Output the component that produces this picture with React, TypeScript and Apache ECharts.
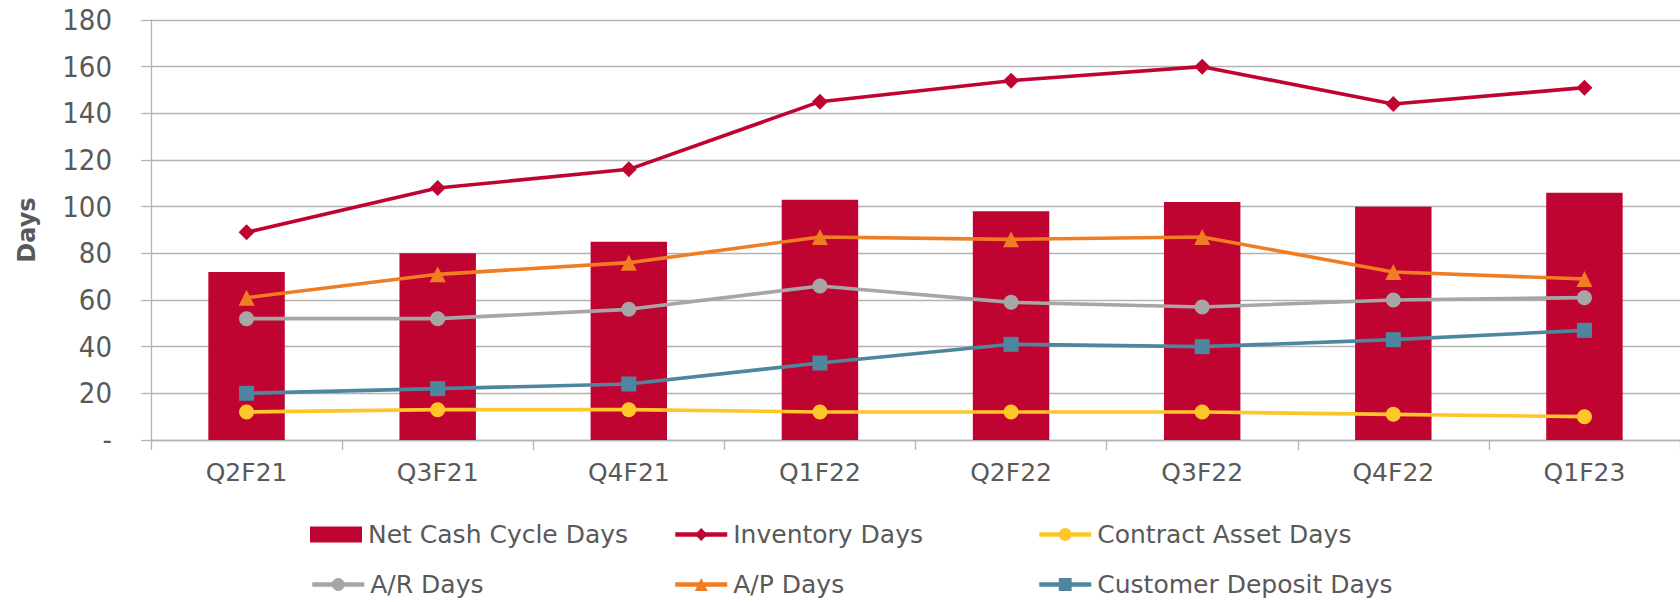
import React, { useEffect, useRef } from "react";
import * as echarts from "echarts";

const categories = ["Q2F21", "Q3F21", "Q4F21", "Q1F22", "Q2F22", "Q3F22", "Q4F22", "Q1F23"];
const netCashCycleDays = [72, 80, 85, 103, 98, 102, 100, 106];
const inventoryDays = [89, 108, 116, 145, 154, 160, 144, 151];
const contractAssetDays = [12, 13, 13, 12, 12, 12, 11, 10];
const arDays = [52, 52, 56, 66, 59, 57, 60, 61];
const apDays = [61, 71, 76, 87, 86, 87, 72, 69];
const customerDepositDays = [20, 22, 24, 33, 41, 40, 43, 47];
const yTicks = [0, 20, 40, 60, 80, 100, 120, 140, 160, 180];

const FONT = "'DejaVu Sans', sans-serif";
const TEXT = "#595959";
const GRID = "#b3b3b3";

const C_RED = "#C00431";
const C_YELLOW = "#FFC62A";
const C_GRAY = "#A6A6A6";
const C_ORANGE = "#F07D22";
const C_BLUE = "#4E86A0";

export default function App() {
  const ref = useRef<HTMLDivElement>(null);
  useEffect(() => {
    if (!ref.current) return;
    const chart = echarts.init(ref.current, undefined, { renderer: "svg" });

    const lineSeries = (name: string, data: number[], color: string, symbol: string, size: number) => ({
      name,
      type: "line",
      data,
      symbol,
      symbolSize: size,
      showSymbol: true,
      lineStyle: { color, width: 3.6 },
      itemStyle: { color },
      z: 3,
    });

    const legendItem = (name: string, left: number, top: number, isBar: boolean) => ({
      data: [
        isBar
          ? { name, icon: "rect" }
          : { name, lineStyle: { width: 4.5 } },
      ],
      left,
      top,
      orient: "horizontal",
      itemWidth: 52,
      itemHeight: 16,
      itemGap: 0,
      padding: 0,
      textStyle: { fontFamily: FONT, fontSize: 25, color: TEXT, padding: [0, 0, 0, 1] },
    });

    chart.setOption({
      animation: false,
      backgroundColor: "#ffffff",
      grid: { left: 151, top: 20, width: 1542, height: 420, containLabel: false },
      legend: [
        legendItem("Net Cash Cycle Days", 310, 522, true),
        legendItem("Inventory Days", 673, 522, false),
        legendItem("Contract Asset Days", 1037, 522, false),
        legendItem("A/R Days", 310, 572, false),
        legendItem("A/P Days", 673, 572, false),
        legendItem("Customer Deposit Days", 1037, 572, false),
      ],
      xAxis: {
        type: "category",
        data: categories,
        boundaryGap: true,
        axisLine: { lineStyle: { color: GRID, width: 1.3 } },
        axisTick: { show: true, length: 10, interval: 0, alignWithLabel: false, lineStyle: { color: GRID, width: 1.3 } },
        axisLabel: { fontFamily: FONT, fontSize: 25, color: TEXT, margin: 20, interval: 0 },
      },
      yAxis: {
        type: "value",
        min: yTicks[0],
        max: yTicks[yTicks.length - 1],
        interval: yTicks[1] - yTicks[0],
        name: "Days",
        nameLocation: "middle",
        nameRotate: 90,
        nameGap: 112,
        nameTextStyle: { fontFamily: FONT, fontSize: 24, fontWeight: "bold", color: TEXT },
        axisLine: { show: true, lineStyle: { color: GRID, width: 1.3 } },
        axisTick: { show: true, length: 10, lineStyle: { color: GRID, width: 1.3 } },
        splitLine: { show: true, lineStyle: { color: GRID, width: 1.3 } },
        axisLabel: {
          fontFamily: "'DejaVu Sans Condensed', 'DejaVu Sans', sans-serif",
          fontSize: 29,
          color: TEXT,
          margin: 39,
          formatter: (v: number) => (v === 0 ? "-" : String(v)),
        },
      },
      series: [
        {
          name: "Net Cash Cycle Days",
          type: "bar",
          data: netCashCycleDays,
          barWidth: "40%",
          itemStyle: { color: C_RED },
          z: 2,
        },
        lineSeries("Inventory Days", inventoryDays, C_RED, "diamond", 16),
        lineSeries("Contract Asset Days", contractAssetDays, C_YELLOW, "circle", 15),
        lineSeries("A/R Days", arDays, C_GRAY, "circle", 15),
        lineSeries("A/P Days", apDays, C_ORANGE, "triangle", 16),
        lineSeries("Customer Deposit Days", customerDepositDays, C_BLUE, "rect", 15),
      ],
    });
    return () => chart.dispose();
  }, []);

  return (
    <div
      ref={ref}
      style={{ position: "fixed", left: 0, top: 0, width: 1680, height: 602, background: "#fff" }}
    />
  );
}
